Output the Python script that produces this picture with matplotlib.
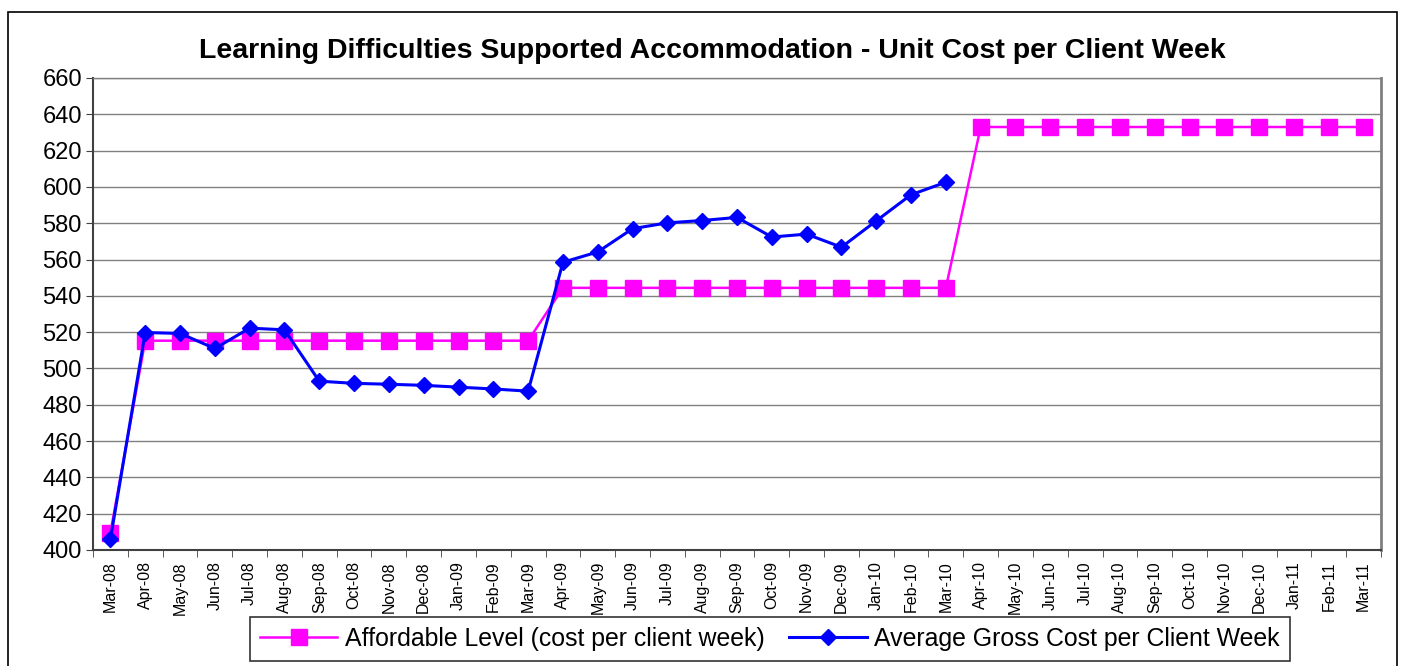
import matplotlib
matplotlib.use("Agg")
import matplotlib.pyplot as plt
from matplotlib.patches import Rectangle
import numpy as np

months = ["Mar-08", "Apr-08", "May-08", "Jun-08", "Jul-08", "Aug-08", "Sep-08", "Oct-08",
          "Nov-08", "Dec-08", "Jan-09", "Feb-09", "Mar-09", "Apr-09", "May-09", "Jun-09",
          "Jul-09", "Aug-09", "Sep-09", "Oct-09", "Nov-09", "Dec-09", "Jan-10", "Feb-10",
          "Mar-10", "Apr-10", "May-10", "Jun-10", "Jul-10", "Aug-10", "Sep-10", "Oct-10",
          "Nov-10", "Dec-10", "Jan-11", "Feb-11", "Mar-11"]

affordable = [409.5] + [515.3] * 12 + [544.4] * 12 + [633.0] * 12

gross = [406.0, 519.8, 519.3, 511.0, 522.2, 521.3, 493.0, 491.8, 491.3, 490.7, 489.7, 488.7,
         487.5, 558.5, 564.2, 577.0, 580.2, 581.5, 583.2, 572.4, 574.0, 566.8, 581.3, 595.7,
         602.6]

yticks = list(range(400, 661, 20))

plt.rcParams['font.family'] = ['Liberation Sans', 'DejaVu Sans']

fig = plt.figure(figsize=(14.04, 6.66), dpi=100)
fig.patch.set_facecolor("white")
ax = fig.add_axes([93/1404, 1-550/666, (1381-93)/1404, (550-78)/666])

x_all = np.arange(len(months))
ax.plot(x_all, affordable, color="#FF00FF", lw=1.8, marker="s", markersize=11,
        markeredgecolor="#FF00FF", label="Affordable Level (cost per client week)", zorder=3)
ax.plot(np.arange(len(gross)), gross, color="#0000FF", lw=2.2, marker="D", markersize=8,
        markeredgecolor="#0000FF", label="Average Gross Cost per Client Week", zorder=4)

ax.set_xlim(-0.5, len(months) - 0.5)
ax.set_ylim(400, 660)
ax.set_yticks(yticks)
ax.set_yticklabels([str(v) for v in yticks], fontsize=17)
ax.yaxis.grid(True, color="#808080", lw=1)
ax.set_axisbelow(True)

ax.set_xticks(x_all)
ax.set_xticklabels(months, rotation=90, fontsize=11.5)
ax.set_xticks(np.arange(-0.5, len(months), 1), minor=True)
ax.tick_params(axis="x", which="major", length=0, pad=8)
ax.tick_params(axis="x", which="minor", length=5, direction="out", color="#404040")
ax.tick_params(axis="y", length=5, direction="out", color="#404040", pad=3)

for s in ["left", "bottom"]:
    ax.spines[s].set_color("#404040")
    ax.spines[s].set_linewidth(1.5)
ax.spines["right"].set_color("#808080")
ax.spines["right"].set_linewidth(2)
ax.spines["top"].set_color("#808080")
ax.spines["top"].set_linewidth(1)

fig.text(712/1404, 1-51/666, "Learning Difficulties Supported Accommodation - Unit Cost per Client Week",
         ha="center", va="center", fontsize=20.5, fontweight="bold")

leg = fig.legend(loc="center", bbox_to_anchor=(770/1404, 1-639/666), ncol=2, fontsize=17.9,
                 frameon=True, fancybox=False, edgecolor="black", handlelength=3.1,
                 columnspacing=1.0, borderpad=0.42, handletextpad=0.3)
leg.get_frame().set_linewidth(1.2)

fig.patches.append(Rectangle((8/1404, -0.05), (1397-8)/1404, 1.05 - 12/666, transform=fig.transFigure,
                             fill=False, edgecolor="black", lw=1.2))

fig.savefig("out.png", dpi=100)
